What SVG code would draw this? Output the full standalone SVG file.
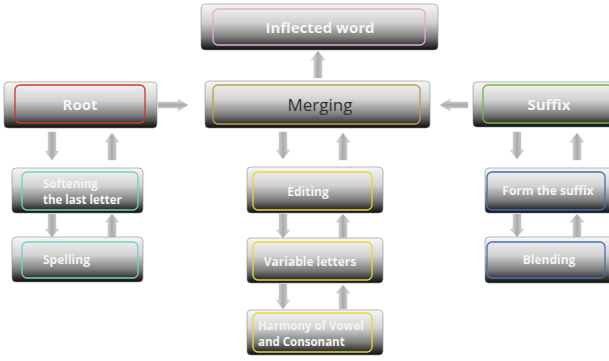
<svg xmlns="http://www.w3.org/2000/svg" width="609" height="361" viewBox="0 0 609 361">
<defs>
<linearGradient id="box" x1="0" y1="0" x2="0" y2="1">
<stop offset="0" stop-color="#f6f6f6"/>
<stop offset="0.4" stop-color="#d2d2d2"/>
<stop offset="0.72" stop-color="#7d7d7d"/>
<stop offset="1" stop-color="#0b0b0b"/>
</linearGradient>
<linearGradient id="arrV" x1="0" y1="0" x2="1" y2="0">
<stop offset="0" stop-color="#e8e8e8"/>
<stop offset="0.5" stop-color="#a9a9a9"/>
<stop offset="1" stop-color="#e0e0e0"/>
</linearGradient>
<linearGradient id="arrH" x1="0" y1="0" x2="0" y2="1">
<stop offset="0" stop-color="#e8e8e8"/>
<stop offset="0.5" stop-color="#a9a9a9"/>
<stop offset="1" stop-color="#e0e0e0"/>
</linearGradient>
</defs>
<style>
.box{fill:url(#box);stroke:#8a8a8a;stroke-width:0.6}
.in{fill:none;stroke-width:1.3}
.t{font-family:"Open Sans","Liberation Sans",sans-serif;font-weight:bold;fill:#f4f4f4}
.big{font-size:15px}
.sm{font-size:12px}
.two{font-size:11.5px}
.av{fill:url(#arrV);stroke:#bdbdbd;stroke-width:0.4}
.ah{fill:url(#arrH);stroke:#bdbdbd;stroke-width:0.4}
</style>
<rect width="609" height="361" fill="#ffffff"/>

<g id="inflected">
<rect class="box" x="201" y="4" width="237" height="46" rx="4"/>
<rect class="in" x="213" y="9" width="212" height="36" rx="5" stroke="#e6a9d6"/>
<text class="t big" x="320" y="33" text-anchor="middle">Inflected word</text>
</g>
<g id="root">
<rect class="box" x="4" y="82" width="153" height="46" rx="4"/>
<rect class="in" x="15" y="85" width="130" height="38" rx="5" stroke="#c43a2e"/>
<text class="t big" x="80" y="110" text-anchor="middle">Root</text>
</g>
<g id="merging">
<rect class="box" x="205" y="81" width="225" height="47" rx="4"/>
<rect class="in" x="213" y="85" width="207" height="39" rx="5" stroke="#b8a24a"/>
<text x="320" y="111" text-anchor="middle" font-family="'Open Sans','Liberation Sans',sans-serif" font-size="17" fill="#333333">Merging</text>
</g>
<g id="suffix">
<rect class="box" x="473" y="82" width="140" height="45" rx="4"/>
<rect class="in" x="483" y="85" width="130" height="38" rx="5" stroke="#6cb44a"/>
<text class="t big" x="549" y="110" text-anchor="middle">Suffix</text>
</g>
<g id="softening">
<rect class="box" x="12" y="168" width="131" height="45" rx="4"/>
<rect class="in" x="22" y="172" width="116" height="38" rx="5" stroke="#74d2c9"/>
<text class="t two" x="43" y="188">Softening</text>
<text class="t two" x="43" y="204">the last letter</text>
</g>
<g id="spelling">
<rect class="box" x="12" y="237" width="131" height="45" rx="4"/>
<rect class="in" x="22" y="242" width="116" height="36" rx="5" stroke="#74d2c9"/>
<text class="t sm" x="43" y="264">Spelling</text>
</g>
<g id="editing">
<rect class="box" x="247" y="167" width="136" height="46" rx="4"/>
<rect class="in" x="253" y="172" width="119" height="38" rx="5" stroke="#e6d834"/>
<text class="t sm" x="308" y="196" text-anchor="middle">Editing</text>
</g>
<g id="variable">
<rect class="box" x="247" y="238" width="136" height="45" rx="4"/>
<rect class="in" x="253" y="242" width="119" height="38" rx="5" stroke="#e6d834"/>
<text class="t sm" x="310" y="266" text-anchor="middle">Variable letters</text>
</g>
<g id="harmony">
<rect class="box" x="247" y="310" width="136" height="45" rx="4"/>
<rect class="in" x="253" y="313" width="119" height="39" rx="5" stroke="#e6d834"/>
<text class="t two" x="258" y="330">Harmony of Vowel</text>
<text class="t two" x="258" y="346">and Consonant</text>
</g>
<g id="formsuffix">
<rect class="box" x="485" y="168" width="128" height="45" rx="4"/>
<rect class="in" x="487" y="172" width="118" height="38" rx="5" stroke="#4a6cb0"/>
<text class="t sm" x="548" y="195" text-anchor="middle">Form the suffix</text>
</g>
<g id="blending">
<rect class="box" x="485" y="237" width="128" height="46" rx="4"/>
<rect class="in" x="487" y="242" width="118" height="36" rx="5" stroke="#4a6cb0"/>
<text class="t sm" x="549" y="264" text-anchor="middle">Blending</text>
</g>

<g id="connectors">
<polygon class="av" points="314,78 322,78 322,60 325,60 318,51 311,60 314,60"/>
<polygon class="ah" points="158,102 178,102 178,99 188,105 178,111 178,108 158,108"/>
<polygon class="ah" points="468,102 450,102 450,99 440,105 450,111 450,108 468,108"/>
<polygon class="av" points="48,132 56,132 56,151 59,151 52,160 45,151 48,151"/>
<polygon class="av" points="108,160 116,160 116,142 119,142 112,133 105,142 108,142"/>
<polygon class="av" points="48,214 56,214 56,229 59,229 52,237 45,229 48,229"/>
<polygon class="av" points="108,237 116,237 116,222 119,222 112,214 105,222 108,222"/>
<polygon class="av" points="279,132 287,132 287,150 290,150 283,159 276,150 279,150"/>
<polygon class="av" points="339,160 347,160 347,142 350,142 343,133 336,142 339,142"/>
<polygon class="av" points="279,214 287,214 287,230 290,230 283,238 276,230 279,230"/>
<polygon class="av" points="339,238 347,238 347,222 350,222 343,214 336,222 339,222"/>
<polygon class="av" points="279,284 287,284 287,300 290,300 283,309 276,300 279,300"/>
<polygon class="av" points="339,309 347,309 347,293 350,293 343,285 336,293 339,293"/>
<polygon class="av" points="513,132 521,132 521,150 524,150 517,159 510,150 513,150"/>
<polygon class="av" points="573,160 581,160 581,142 584,142 577,133 570,142 573,142"/>
<polygon class="av" points="513,214 521,214 521,229 524,229 517,237 510,229 513,229"/>
<polygon class="av" points="573,237 581,237 581,222 584,222 577,214 570,222 573,222"/>
</g>
</svg>
